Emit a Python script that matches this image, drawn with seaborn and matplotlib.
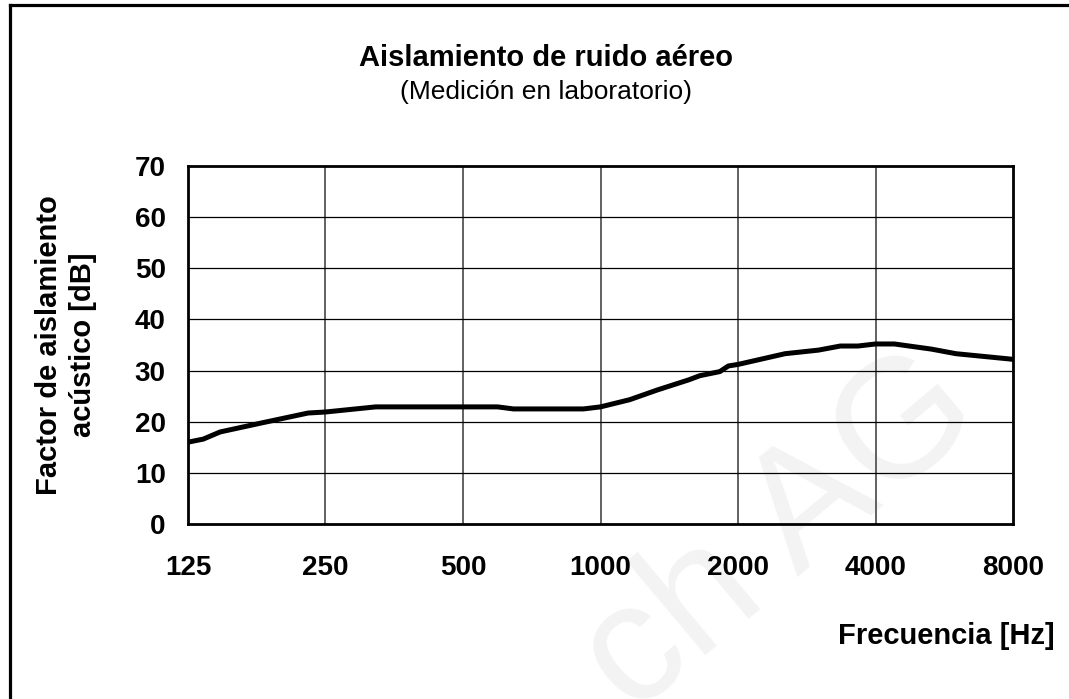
import matplotlib
matplotlib.use("Agg")
import matplotlib.pyplot as plt
from matplotlib.lines import Line2D
import seaborn as sns
import pandas as pd

# ---- data ----
freq_hz = [125, 135, 147, 182, 229, 250, 322, 595, 645, 918, 1000, 1158, 1331,
           1562, 1650, 1825, 1905, 2000, 2536, 3000, 3350, 3660, 4000, 4400,
           5300, 6000, 8000]
aislamiento_db = [16.0, 16.6, 18.0, 19.8, 21.7, 21.9, 22.9, 22.9, 22.5, 22.5,
                  22.9, 24.3, 26.2, 28.2, 29.0, 29.8, 30.9, 31.2, 33.3, 34.0,
                  34.8, 34.8, 35.2, 35.2, 34.2, 33.3, 32.2]
x_ticks = [125, 250, 500, 1000, 2000, 4000, 8000]
x_tick_labels = ["125", "250", "500", "1000", "2000", "4000", "8000"]
y_ticks = [0, 10, 20, 30, 40, 50, 60, 70]

title = "Aislamiento de ruido aéreo"
subtitle = "(Medición en laboratorio)"
xlabel = "Frecuencia [Hz]"
ylabel = "Factor de aislamiento\nacústico [dB]"
watermark = "ch AG"

df = pd.DataFrame({"freq": freq_hz, "db": aislamiento_db})

sns.set_style("white")
plt.rcParams["font.family"] = ["Liberation Sans", "DejaVu Sans"]
plt.rcParams["text.color"] = "black"
plt.rcParams["xtick.color"] = "black"
plt.rcParams["ytick.color"] = "black"

W, H = 1069, 699
fig = plt.figure(figsize=(W / 100, H / 100), dpi=100)
fig.patch.set_facecolor("white")

ax = fig.add_axes([188 / W, 1 - 524 / H, (1013 - 188) / W, (524 - 166) / H])
ax.set_facecolor("none")

sns.lineplot(data=df, x="freq", y="db", ax=ax, color="black", linewidth=3.6,
             sort=True, zorder=5)

ax.set_xscale("log")
ax.set_xlim(125, 8000)
ax.set_ylim(0, 70)
ax.set_xticks(x_ticks)
ax.set_xticklabels(x_tick_labels)
ax.minorticks_off()
ax.set_yticks(y_ticks)
ax.set_xlabel("")
ax.set_ylabel("")

for v in x_ticks[1:-1]:
    ax.axvline(v, color="#555555", linewidth=1.3, zorder=1)
for v in y_ticks[1:-1]:
    ax.axhline(v, color="black", linewidth=0.9, zorder=1)

for s in ax.spines.values():
    s.set_visible(True)
    s.set_color("black")
    s.set_linewidth(2)

ax.tick_params(axis="both", which="major", direction="out", length=7,
               width=1.5, colors="black", labelsize=20)
ax.tick_params(axis="x", pad=15)
ax.tick_params(axis="y", pad=9)
for lab in ax.get_xticklabels() + ax.get_yticklabels():
    lab.set_fontweight("bold")
    lab.set_color("black")

# titles and labels
fig.text(546 / W, 1 - 58 / H, title, ha="center", va="center",
         fontsize=21, fontweight="bold", color="black")
fig.text(546 / W, 1 - 92 / H, subtitle, ha="center", va="center",
         fontsize=19, color="black")
fig.text(1055 / W, 1 - 636 / H, xlabel, ha="right", va="center",
         fontsize=21, fontweight="bold", color="black")
fig.text(66 / W, 1 - 345 / H, ylabel, ha="center", va="center",
         rotation=90, fontsize=21, fontweight="bold", color="black",
         multialignment="center", linespacing=1.25)

# watermark
fig.text(985 / W, 1 - 420 / H, watermark, ha="right", va="baseline",
         rotation=40, rotation_mode="anchor", fontsize=122,
         color="#f3f3f3", zorder=-5, clip_on=True)

# outer border (left and top)
fig.add_artist(Line2D([9.5 / W, 9.5 / W], [0, 1 - 4.5 / H],
                      transform=fig.transFigure, color="black", linewidth=2.3,
                      solid_capstyle="projecting"))
fig.add_artist(Line2D([9.5 / W, 1], [1 - 4.5 / H, 1 - 4.5 / H],
                      transform=fig.transFigure, color="black", linewidth=2.3,
                      solid_capstyle="projecting"))

fig.savefig("out.png", dpi=100, facecolor="white")
